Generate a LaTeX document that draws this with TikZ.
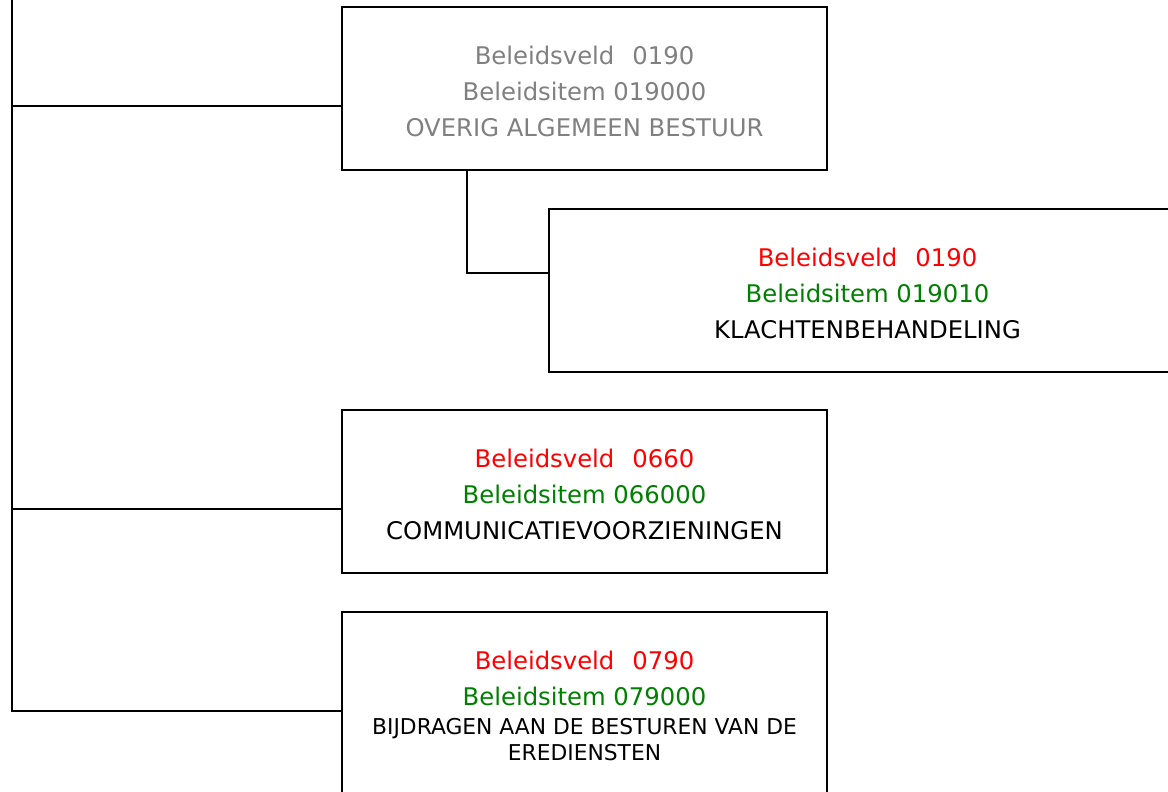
\documentclass[tikz,border=0pt]{standalone}
\usepackage{fontspec}
\setmainfont{DejaVu Sans}
\usepackage{tikz}
\usetikzlibrary{positioning}
\usetikzlibrary{calc}
\definecolor{veldred}{RGB}{255,0,0}
\definecolor{itemgreen}{RGB}{0,128,0}
\definecolor{oldgrey}{RGB}{128,128,128}
\tikzstyle{box}=[draw,rectangle,line width=2pt,minimum width=485pt,minimum height=163pt,align=center,inner sep=0pt,font=\fontsize{24.3}{36}\selectfont]
\newcommand{\veld}[1]{{\strut\color{veldred}Beleidsveld\hspace{18pt}#1}}
\newcommand{\bitem}[1]{{\color{itemgreen}Beleidsitem #1}}
\newcommand{\kleinfont}{\fontsize{21.8}{26}\selectfont}

\begin{document}
\begin{tikzpicture}[x=1pt,y=-1pt,line width=2pt]
\path[use as bounding box,clip] (0,0) rectangle (1168,792);
\tikzstyle{link}=[draw,line width=2pt]
\node [box,text=oldgrey] (a) at (584.5,88.5) {\strut Beleidsveld\hspace{18pt}0190\\Beleidsitem 019000\\OVERIG ALGEMEEN BESTUUR};
\node [box,minimum width=637pt] (b) at (867.5,290.5) {\veld{0190}\\\bitem{019010}\\KLACHTENBEHANDELING};
\node [box] (c) at (584.5,491.5) {\veld{0660}\\\bitem{066000}\\COMMUNICATIEVOORZIENINGEN};
\node [box,minimum height=188pt] (d) at (584.5,706) {\veld{0790}\\\bitem{079000}\\[-7pt]{\kleinfont BIJDRAGEN AAN DE BESTUREN VAN DE}\\[-10pt]{\kleinfont EREDIENSTEN\strut}};

\coordinate (R) at (12,0);
\coordinate (A) at ([yshift=-100pt]a.north west);
\coordinate (B) at ([yshift=-65pt]b.north west);
\coordinate (C) at ([yshift=-100pt]c.north west);
\coordinate (D) at ([yshift=-100pt]d.north west);
\coordinate (E) at ([xshift=126pt]a.south west);

\draw[link] (R) -- (R |- D) -- (D);
\draw[link] (R |- A) -- (A);
\draw[link] (R |- C) -- (C);
\draw[link] (E) |- (B);
\end{tikzpicture}
\end{document}
